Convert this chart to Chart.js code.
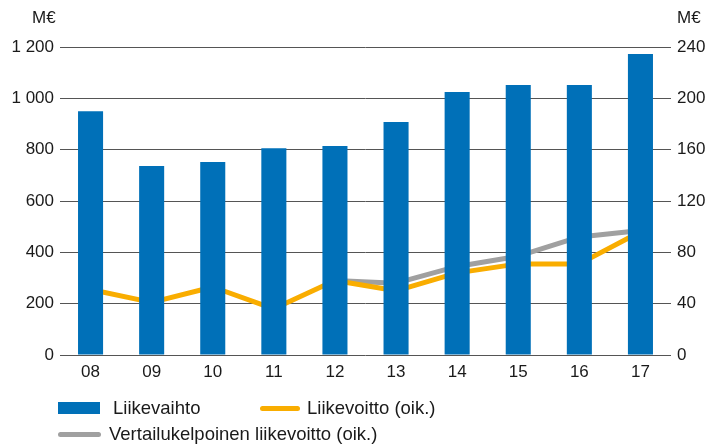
<!DOCTYPE html>
<html>
<head>
<meta charset="utf-8">
<script src="https://cdn.jsdelivr.net/npm/chart.js@4/dist/chart.umd.min.js"></script>
<style>
  html, body { margin: 0; padding: 0; background: #fff; }
  body { width: 708px; height: 447px; position: relative; overflow: hidden; font-family: "Liberation Sans", Arial, sans-serif; color: #1a1a1a; }
  #wrap { position: absolute; left: 0; top: 0; width: 708px; height: 447px; }
  .unit { position: absolute; top: 8px; font-size: 17px; }
  .lg { position: absolute; font-size: 18.5px; line-height: 20px; white-space: nowrap; }
  .lg i { position: absolute; display: block; }
</style>
</head>
<body>
<div id="wrap"><canvas id="chart" width="708" height="447"></canvas></div>
<div class="unit" style="left:32px">M€</div>
<div class="unit" style="left:677px">M€</div>
<div id="legend"></div>
<script>
const years = ["08", "09", "10", "11", "12", "13", "14", "15", "16", "17"];
const liikevaihto = [950, 736, 752, 806, 814, 908, 1025, 1052, 1052, 1173];
const liikevoitto = [51, 41, 53, 36, 58, 50, 64, 71, 71, 96];
const vertailukelpoinen = [null, null, null, null, 58, 56, 69, 77, 92, 97];
const leftTicks = [0, 200, 400, 600, 800, 1000, 1200];
const rightTicks = [0, 40, 80, 120, 160, 200, 240];

const BLUE = "#0070b8";
const ORANGE = "#f9ad00";
const GREY = "#a0a0a0";

function spaced(v) {
  return String(v).replace(/\B(?=(\d{3})+(?!\d))/g, " ");
}

const tickFont = { family: "'Liberation Sans', Arial, sans-serif", size: 17 };

const chart = new Chart(document.getElementById("chart"), {
  type: "bar",
  data: {
    labels: years,
    datasets: [
      {
        label: "Liikevaihto",
        data: liikevaihto,
        backgroundColor: BLUE,
        yAxisID: "y",
        barPercentage: 0.41,
        categoryPercentage: 1,
      },
      {
        type: "line",
        label: "Liikevoitto (oik.)",
        data: liikevoitto,
        borderColor: ORANGE,
        borderWidth: 5,
        pointRadius: 0,
        tension: 0,
        borderCapStyle: "round",
        borderJoinStyle: "round",
        yAxisID: "y1",
      },
      {
        type: "line",
        label: "Vertailukelpoinen liikevoitto (oik.)",
        data: vertailukelpoinen,
        borderColor: GREY,
        borderWidth: 5,
        pointRadius: 0,
        tension: 0,
        borderCapStyle: "round",
        borderJoinStyle: "round",
        yAxisID: "y1",
      },
    ],
  },
  options: {
    responsive: false,
    animation: false,
    layout: { padding: { top: 47, bottom: 62, left: 0, right: 0 } },
    plugins: { legend: { display: false }, tooltip: { enabled: false } },
    scales: {
      x: {
        grid: { display: false, drawTicks: false },
        border: { display: false },
        ticks: { color: "#1a1a1a", font: tickFont, padding: 7, maxRotation: 0 },
        afterFit: (s) => { s.height = 30; },
      },
      y: {
        position: "left",
        min: 0,
        max: 1200,
        afterBuildTicks: (s) => { s.ticks = leftTicks.map((v) => ({ value: v })); },
        ticks: { color: "#1a1a1a", font: tickFont, padding: 6, callback: (v) => spaced(v) },
        grid: { color: "#555", lineWidth: 1, drawTicks: false },
        border: { display: false },
        afterFit: (s) => { s.width = 60; },
      },
      y1: {
        position: "right",
        min: 0,
        max: 240,
        afterBuildTicks: (s) => { s.ticks = rightTicks.map((v) => ({ value: v })); },
        ticks: { color: "#1a1a1a", font: tickFont, padding: 6 },
        grid: { drawOnChartArea: false, drawTicks: false },
        border: { display: false },
        afterFit: (s) => { s.width = 37; },
      },
    },
  },
});

// legend laid out like the original: two items on the first row, one below
const legendSlots = [
  { x: 58, y: 398, mark: 42, text: 113 },
  { x: 260, y: 398, mark: 40, text: 307 },
  { x: 58, y: 424, mark: 43, text: 109 },
];
const legend = document.getElementById("legend");
chart.data.datasets.forEach((ds, i) => {
  const slot = legendSlots[i];
  const item = document.createElement("div");
  item.className = "lg";
  item.style.left = slot.x + "px";
  item.style.top = slot.y + "px";
  const mark = document.createElement("i");
  if (ds.type === "line") {
    mark.style.cssText = `left:0;top:8px;width:${slot.mark}px;height:5px;border-radius:3px;background:${ds.borderColor}`;
  } else {
    mark.style.cssText = `left:0;top:4px;width:${slot.mark}px;height:12px;background:${ds.backgroundColor}`;
  }
  const label = document.createElement("span");
  label.textContent = ds.label;
  label.style.cssText = `position:absolute;left:${slot.text - slot.x}px;top:0`;
  item.appendChild(mark);
  item.appendChild(label);
  legend.appendChild(item);
});
</script>
</body>
</html>
